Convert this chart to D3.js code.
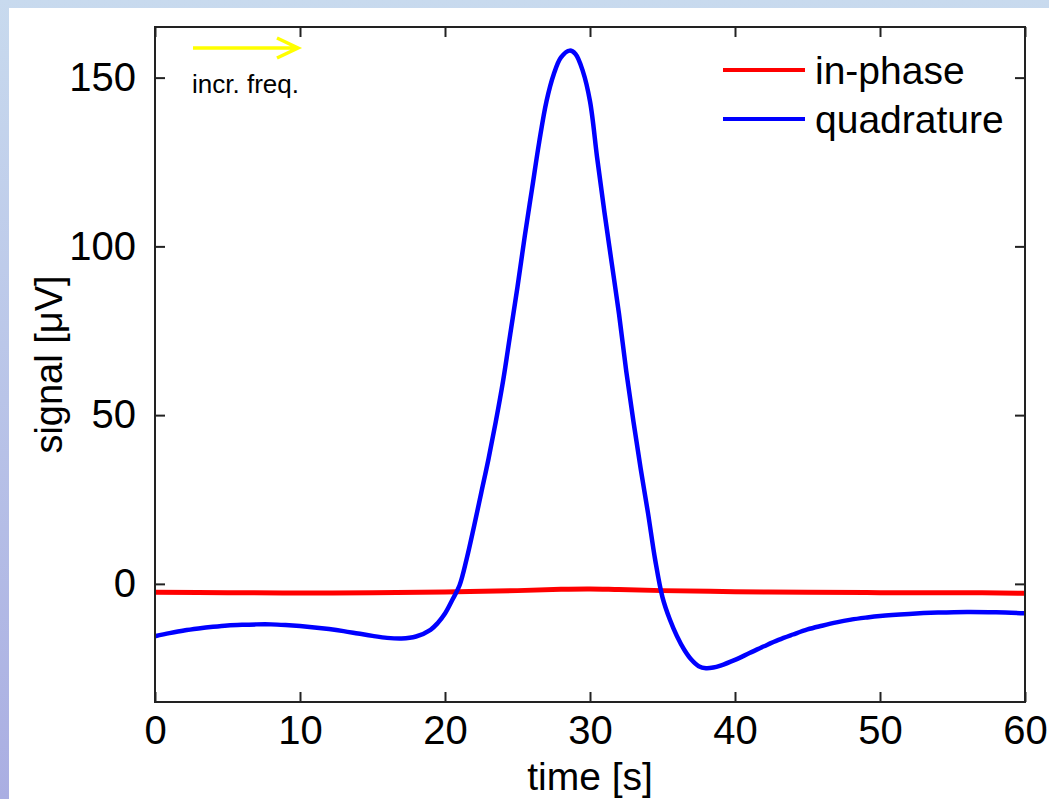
<!DOCTYPE html>
<html>
<head>
<meta charset="utf-8">
<script src="https://cdn.jsdelivr.net/npm/d3@7"></script>
<style>
  body { margin: 0; padding: 0; overflow: hidden; }
  text { font-family: "Liberation Sans", Arial, Helvetica, sans-serif; fill: #000; }
</style>
</head>
<body>
<div id="chart"></div>
<script>
// data
var timeInPhase = [0, 5, 10, 15, 20, 25, 28, 30, 32, 35, 40, 45, 50, 55, 60];
var inPhase = [-2.5, -2.6, -2.7, -2.6, -2.4, -2.0, -1.6, -1.5, -1.7, -2.0, -2.3, -2.5, -2.6, -2.6, -2.8];

var timeQuad = [0, 1, 2, 3, 4, 5, 6, 7, 8, 9, 10, 11, 12, 13, 14, 15, 16, 17, 18, 19, 19.5, 20, 20.5,
  21, 21.5, 22, 22.5, 23, 23.5, 24, 24.5, 25, 25.5, 26, 26.5, 27, 27.5, 28, 28.6, 29, 29.5,
  30, 30.5, 31, 31.5, 32, 32.5, 33, 33.5, 34, 34.5, 35, 35.5, 36, 36.5, 37, 37.5, 38, 38.5,
  39, 40, 41, 42, 43, 44, 45, 46, 47, 48, 49, 50, 52, 54, 56, 58, 60];
var quadrature = [-15.5, -14.6, -13.8, -13.2, -12.7, -12.3, -12.1, -12.0, -12.0, -12.2, -12.5, -12.9,
  -13.4, -14.0, -14.7, -15.4, -16.0, -16.2, -15.6, -13.6, -11.6, -8.8, -4.8,
  -0.5, 7.5, 17, 27, 37, 48, 60, 74, 88, 103, 117, 131, 143, 151, 156, 158, 157, 152,
  143, 126, 110, 95, 80, 63, 48, 34, 21, 7, -4, -10.5, -15.5, -19.5, -22.5, -24.4, -25, -24.8,
  -24.2, -22.5, -20.5, -18.5, -16.6, -15, -13.5, -12.4, -11.4, -10.6, -10, -9.5, -8.9, -8.5, -8.3, -8.4, -8.7];

var xTicks = [0, 10, 20, 30, 40, 50, 60];
var yTicks = [0, 50, 100, 150];
var seriesNames = ["in-phase", "quadrature"];
var seriesColors = ["#ff0000", "#0000ff"];

var svgWidth = 1049;
var svgHeight = 799;
var margin = { top: 27, right: 23, bottom: 97, left: 155 };
var chartWidth = 1025 - margin.left;
var chartHeight = 702 - margin.top;

var svg = d3.select("#chart")
  .append("svg")
  .attr("width", svgWidth)
  .attr("height", svgHeight);

// slide background
var grad = svg.append("defs").append("linearGradient")
  .attr("id", "bg").attr("x1", 0).attr("y1", 0).attr("x2", 0).attr("y2", 1);
grad.append("stop").attr("offset", "0%").attr("stop-color", "#c8daee");
grad.append("stop").attr("offset", "100%").attr("stop-color", "#aaaee2");
svg.append("rect").attr("width", svgWidth).attr("height", svgHeight).attr("fill", "url(#bg)");
svg.append("rect").attr("x", 9).attr("y", 8)
  .attr("width", svgWidth - 9).attr("height", svgHeight - 8).attr("fill", "#fff");

var chartGroup = svg.append("g")
  .attr("transform", `translate(${margin.left}, ${margin.top})`);

var xScale = d3.scaleLinear().domain([0, 60]).range([0, chartWidth]);
var yScale = d3.scaleLinear().domain([-35, 165]).range([chartHeight, 0]);

// data lines
var line = d3.line()
  .x(d => xScale(d[0]))
  .y(d => yScale(d[1]))
  .curve(d3.curveCatmullRom);

chartGroup.append("path")
  .datum(d3.zip(timeInPhase, inPhase))
  .attr("d", line)
  .attr("fill", "none")
  .attr("stroke", seriesColors[0])
  .attr("stroke-width", 5);

chartGroup.append("path")
  .datum(d3.zip(timeQuad, quadrature))
  .attr("d", line)
  .attr("fill", "none")
  .attr("stroke", seriesColors[1])
  .attr("stroke-width", 4.5);

// axes, ticks on all four sides pointing in
var tickLen = 10;
chartGroup.append("g")
  .attr("transform", `translate(0, ${chartHeight})`)
  .call(d3.axisBottom(xScale).tickValues(xTicks).tickSizeInner(-tickLen).tickSizeOuter(0).tickPadding(tickLen + 4))
  .call(g => g.selectAll("text").attr("font-size", "40px").attr("dy", "0.71em").attr("fill", "#000"));
chartGroup.append("g")
  .call(d3.axisTop(xScale).tickValues(xTicks).tickSizeInner(-tickLen).tickSizeOuter(0).tickFormat(""));
chartGroup.append("g")
  .call(d3.axisLeft(yScale).tickValues(yTicks).tickSizeInner(-tickLen).tickSizeOuter(0).tickPadding(tickLen + 9))
  .call(g => g.selectAll("text").attr("font-size", "40px").attr("fill", "#000"));
chartGroup.append("g")
  .attr("transform", `translate(${chartWidth}, 0)`)
  .call(d3.axisRight(yScale).tickValues(yTicks).tickSizeInner(-tickLen).tickSizeOuter(0).tickFormat(""));

chartGroup.selectAll(".domain").remove();
chartGroup.selectAll(".tick line").attr("stroke", "#222").attr("stroke-width", 2);

chartGroup.append("rect")
  .attr("width", chartWidth)
  .attr("height", chartHeight)
  .attr("fill", "none")
  .attr("stroke", "#222")
  .attr("stroke-width", 2);

// axis labels
chartGroup.append("text")
  .attr("x", chartWidth / 2)
  .attr("y", 790 - margin.top)
  .attr("text-anchor", "middle")
  .attr("font-size", "39px")
  .text("time [s]");

chartGroup.append("text")
  .attr("transform", "rotate(-90)")
  .attr("x", -chartHeight / 2)
  .attr("y", 62 - margin.left)
  .attr("text-anchor", "middle")
  .attr("font-size", "38px")
  .text("signal [\u03bcV]");

// legend
var legend = chartGroup.selectAll("g.legend")
  .data(seriesNames)
  .enter().append("g")
  .attr("class", "legend")
  .attr("transform", (d, i) => `translate(${723 - margin.left}, ${70 + i * 49 - margin.top})`);
legend.append("line")
  .attr("x1", 0).attr("x2", 82)
  .attr("stroke", (d, i) => seriesColors[i])
  .attr("stroke-width", 4);
legend.append("text")
  .attr("x", 92)
  .attr("y", 14)
  .attr("font-size", "39px")
  .text(d => d);

// annotation arrow
var arrow = chartGroup.append("g").attr("transform", `translate(${193 - margin.left}, ${48 - margin.top})`);
arrow.append("path")
  .attr("d", "M0,0 L105,0 M84,-10 L105,0 L84,10")
  .attr("fill", "none")
  .attr("stroke", "#ffff00")
  .attr("stroke-width", 3.5);
chartGroup.append("text")
  .attr("x", 192 - margin.left)
  .attr("y", 93 - margin.top)
  .attr("font-size", "26px")
  .text("incr. freq.");
</script>
</body>
</html>
